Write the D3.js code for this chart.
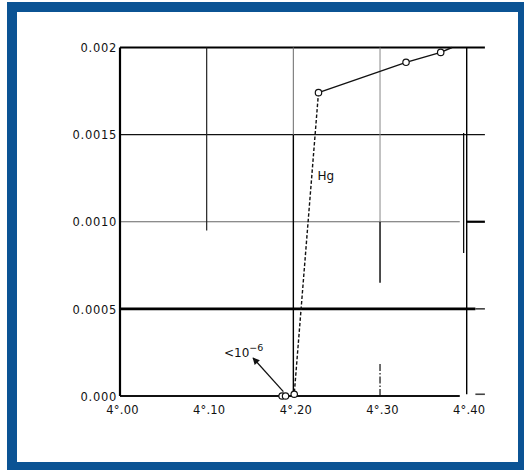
<!DOCTYPE html>
<html>
<head>
<meta charset="utf-8">
<script src="https://cdn.jsdelivr.net/npm/d3@7"></script>
<style>
  html, body { margin: 0; padding: 0; background: #fff; }
  svg { display: block; }
  text { font-family: "DejaVu Sans", sans-serif; fill: #111; }
</style>
</head>
<body>
<svg id="chart" width="524" height="470"></svg>
<script>
// Resistance of mercury (in units of its 0 °C value) against temperature (K)
const xTicks = [4.00, 4.10, 4.20, 4.30, 4.40];
const xTickLabels = ["4°.00", "4°.10", "4°.20", "4°.30", "4°.40"];
const yTicks = [0, 0.0005, 0.0010, 0.0015, 0.002];
const yTickLabels = ["0.000", "0.0005", "0.0010", "0.0015", "0.002"];

// measured points above the transition
const normalT = [4.229, 4.330, 4.370];
const normalR = [0.001741, 0.001915, 0.001972];
// solid trend through the normal-state points, running to the top edge
const trendT = [4.229, 4.330, 4.370, 4.383];
const trendR = [0.001741, 0.001915, 0.001972, 0.002];
// points below the transition (R < 1e-6)
const superT = [4.187, 4.191, 4.201];
const superR = [0, 0, 0.00001];
// dashed drop between the two regimes
const dropT = [4.229, 4.201];
const dropR = [0.001741, 0.00001];

// grid segments, in data units
const hGrid = [
  { y: 0.002,  x0: 4.00, x1: 4.421, w: 2.2, c: "#000" },
  { y: 0.0015, x0: 4.00, x1: 4.421, w: 1.4, c: "#111" },
  { y: 0.0010, x0: 4.00, x1: 4.392, w: 1.1, c: "#666" },
  { y: 0.0010, x0: 4.40, x1: 4.421, w: 2.2, c: "#000" },
  { y: 0.0005, x0: 4.00, x1: 4.41,  w: 2.6, c: "#000" },
  { y: 0.0005, x0: 4.41, x1: 4.421, w: 1.2, c: "#000" },
  { y: 0,      x0: 4.00, x1: 4.392, w: 2.0, c: "#111" },
  { y: 0.00001, x0: 4.41, x1: 4.421, w: 1.6, c: "#444" }
];
const vGrid = [
  { x: 4.00, y0: 0, y1: 0.002, w: 2.2, c: "#000" },
  { x: 4.10, y0: 0.00095, y1: 0.002, w: 1.2, c: "#222" },
  { x: 4.20, y0: 0, y1: 0.0015, w: 1.4, c: "#000" },
  { x: 4.20, y0: 0.0015, y1: 0.002, w: 1.1, c: "#777" },
  { x: 4.30, y0: 0.00065, y1: 0.0010, w: 1.4, c: "#000" },
  { x: 4.30, y0: 0.0010, y1: 0.002, w: 1.0, c: "#888" },
  { x: 4.40, y0: 0.00001, y1: 0.002, w: 1.4, c: "#000" },
  { x: 4.3965, y0: 0.00082, y1: 0.00151, w: 1.2, c: "#000" }
];
const dashDot = [{ x: 4.30, y0: 0, y1: 0.000195 }];

// arrow pointing to the low-resistance points
const arrowFrom = [4.1885, 0.000025];
const arrowTo = [4.1535, 0.000218];
const arrowLabel = { t: 4.120, r: 0.000223, text: "<10", sup: "−6" };
const seriesLabel = { t: 4.229, r: 0.00124, text: "Hg" };

const svg = d3.select("#chart");

// frame
svg.append("rect").attr("x", 7).attr("y", 2).attr("width", 517).attr("height", 468).attr("fill", "#0b5394");
svg.append("rect").attr("x", 17).attr("y", 12).attr("width", 501).attr("height", 450).attr("fill", "#fff");

const x = d3.scaleLinear().domain([4.0, 4.4]).range([120, 466.7]);
const y = d3.scaleLinear().domain([0, 0.002]).range([396, 47.5]);

const g = svg.append("g");

// grid
g.selectAll("line.h").data(hGrid).join("line")
  .attr("x1", d => x(d.x0)).attr("x2", d => x(d.x1))
  .attr("y1", d => y(d.y)).attr("y2", d => y(d.y))
  .attr("stroke", d => d.c).attr("stroke-width", d => d.w);
g.selectAll("line.v").data(vGrid).join("line")
  .attr("x1", d => x(d.x)).attr("x2", d => x(d.x))
  .attr("y1", d => y(d.y0)).attr("y2", d => y(d.y1))
  .attr("stroke", d => d.c).attr("stroke-width", d => d.w);
g.selectAll("line.dd").data(dashDot).join("line")
  .attr("x1", d => x(d.x)).attr("x2", d => x(d.x))
  .attr("y1", d => y(d.y0)).attr("y2", d => y(d.y1))
  .attr("stroke", "#111").attr("stroke-width", 1.2)
  .attr("stroke-dasharray", "7,2,1.5,2");

// axes (labels only; the frame lines are drawn above)
const yAxis = d3.axisLeft(y).tickValues(yTicks).tickFormat((d, i) => yTickLabels[i]).tickSize(0).tickPadding(3);
const ya = svg.append("g").attr("transform", "translate(120,0)").call(yAxis);
ya.select(".domain").remove();
ya.selectAll("text").attr("font-size", 11.5).attr("letter-spacing", 0.7)
  .attr("font-family", "DejaVu Sans").attr("fill", "#111").attr("dy", "0.36em");

const xAxis = d3.axisBottom(x).tickValues(xTicks).tickFormat((d, i) => xTickLabels[i]).tickSize(0).tickPadding(10);
const xa = svg.append("g").attr("transform", "translate(0,396)").call(xAxis);
xa.select(".domain").remove();
xa.selectAll("text").attr("font-size", 11.5).attr("letter-spacing", 0.2)
  .attr("font-family", "DejaVu Sans").attr("fill", "#111").attr("dx", 2);

// dashed drop
const line = d3.line().x(d => x(d[0])).y(d => y(d[1]));
g.append("path").datum(d3.zip(dropT, dropR)).attr("d", line)
  .attr("fill", "none").attr("stroke", "#111").attr("stroke-width", 1.4)
  .attr("stroke-dasharray", "3.5,2");

// solid normal-state trend
g.append("path").datum(d3.zip(trendT, trendR)).attr("d", line)
  .attr("fill", "none").attr("stroke", "#111").attr("stroke-width", 1.4);

// markers
const pts = d3.zip(normalT, normalR).concat(d3.zip(superT, superR));
g.selectAll("circle.p").data(pts).join("circle")
  .attr("cx", d => x(d[0])).attr("cy", d => y(d[1])).attr("r", 3.2)
  .attr("fill", "#fff").attr("stroke", "#111").attr("stroke-width", 1.2);

// arrow
const defs = svg.append("defs");
defs.append("marker").attr("id", "head").attr("viewBox", "0 0 10 10")
  .attr("refX", 9).attr("refY", 5).attr("markerWidth", 11).attr("markerHeight", 7)
  .attr("markerUnits", "userSpaceOnUse").attr("orient", "auto")
  .append("path").attr("d", "M0,0 L10,5 L0,10 z").attr("fill", "#111");
g.append("line")
  .attr("x1", x(arrowFrom[0])).attr("y1", y(arrowFrom[1]))
  .attr("x2", x(arrowTo[0])).attr("y2", y(arrowTo[1]))
  .attr("stroke", "#111").attr("stroke-width", 1.3).attr("marker-end", "url(#head)");

const al = g.append("text").attr("x", x(arrowLabel.t)).attr("y", y(arrowLabel.r))
  .attr("font-size", 12);
al.append("tspan").text(arrowLabel.text);
al.append("tspan").attr("dy", -6).attr("font-size", 9.5).text(arrowLabel.sup);

g.append("text").attr("x", x(seriesLabel.t)).attr("y", y(seriesLabel.r))
  .attr("font-size", 12).attr("dx", -1).text(seriesLabel.text);
</script>
</body>
</html>
